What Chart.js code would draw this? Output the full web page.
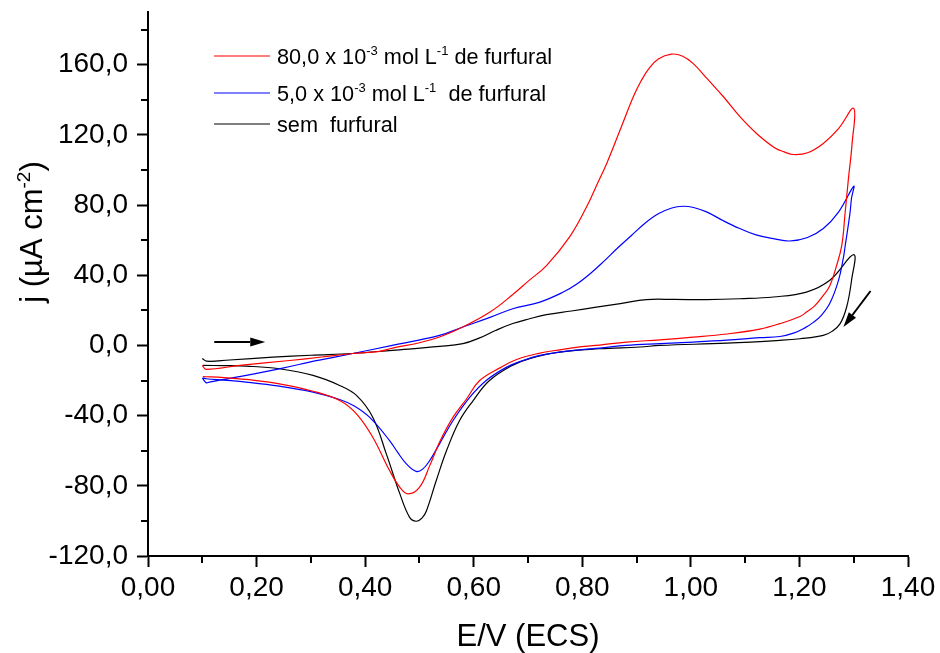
<!DOCTYPE html>
<html>
<head>
<meta charset="utf-8">
<script src="https://cdn.jsdelivr.net/npm/chart.js@4.4.1/dist/chart.umd.min.js"></script>
<style>
  html, body { margin: 0; padding: 0; background: #fff; }
  #wrap { width: 940px; height: 653px; position: relative; }
</style>
</head>
<body>
<div id="wrap"><canvas id="cv"></canvas></div>
<script>
// Cyclic voltammograms: E (V vs ECS) and j (uA cm-2), forward scan then reverse scan
const redE = [0.100, 0.107, 0.169, 0.261, 0.320, 0.377, 0.427, 0.450, 0.500, 0.537, 0.580, 0.630, 0.672, 0.700, 0.734, 0.777, 0.808, 0.829, 0.845, 0.870, 0.894, 0.908, 0.922, 0.940, 0.964, 0.985, 1.004, 1.030, 1.060, 1.090, 1.121, 1.155, 1.172, 1.189, 1.215, 1.244, 1.272, 1.300,
  1.297, 1.290, 1.284, 1.278, 1.268, 1.256, 1.244, 1.228, 1.213, 1.201, 1.164, 1.127, 1.066, 1.004, 0.943, 0.881, 0.832, 0.795, 0.758, 0.720, 0.679, 0.650, 0.611, 0.587, 0.562, 0.537, 0.519, 0.500, 0.479, 0.464, 0.445, 0.414, 0.384, 0.353, 0.304, 0.242, 0.181, 0.140, 0.101];
const redJ = [-11.4, -13.6, -11.4, -8.6, -6.6, -4.6, -3.4, -1.5, 1.5, 4.8, 10.5, 19.0, 29.0, 36.5, 45.5, 62.0, 79.0, 93.0, 103.7, 123.0, 141.7, 150.5, 157.5, 163.2, 166.0, 164.8, 160.7, 152.0, 141.7, 130.5, 120.8, 112.5, 110.3, 108.8, 109.8, 115.1, 123.5, 135.1,
  115.0, 94.2, 75.0, 57.0, 45.0, 34.0, 28.5, 22.5, 19.0, 16.5, 12.4, 9.3, 6.5, 4.7, 3.2, 1.9, 0.2, -0.8, -2.5, -4.5, -8.0, -12.5, -20.0, -30.4, -40.9, -55.2, -68.5, -80.9, -84.6, -80.9, -71.3, -52.3, -39.0, -31.4, -26.1, -21.9, -19.4, -18.3, -17.7];

const blueE = [0.100, 0.107, 0.113, 0.181, 0.248, 0.310, 0.377, 0.450, 0.537, 0.580, 0.630, 0.672, 0.722, 0.765, 0.790, 0.815, 0.840, 0.865, 0.890, 0.915, 0.940, 0.965, 0.985, 1.005, 1.029, 1.060, 1.090, 1.120, 1.152, 1.182, 1.215, 1.244, 1.272, 1.300,
  1.296, 1.293, 1.284, 1.281, 1.272, 1.256, 1.240, 1.225, 1.210, 1.189, 1.164, 1.127, 1.066, 1.004, 0.943, 0.881, 0.832, 0.795, 0.758, 0.720, 0.691, 0.660, 0.623, 0.593, 0.562, 0.537, 0.519, 0.506, 0.494, 0.476, 0.460, 0.445, 0.408, 0.380, 0.353, 0.304, 0.242, 0.181, 0.140, 0.107, 0.101];
const blueJ = [-18.5, -21.2, -20.9, -17.1, -12.9, -8.7, -4.6, 0.0, 5.7, 10.5, 16.0, 20.9, 24.7, 30.4, 35.0, 41.0, 48.0, 55.5, 62.5, 69.5, 75.0, 78.3, 79.3, 78.6, 76.1, 71.0, 66.6, 63.0, 60.9, 59.5, 61.5, 66.6, 76.0, 90.7,
  84.0, 75.1, 56.1, 50.0, 37.1, 24.0, 17.0, 13.0, 10.0, 7.0, 5.1, 4.4, 3.0, 1.9, 1.0, 0.0, -1.5, -2.5, -3.8, -5.8, -8.6, -12.5, -20.0, -29.5, -42.8, -56.1, -65.6, -70.5, -71.8, -67.5, -61.0, -54.2, -40.9, -34.5, -30.8, -26.6, -23.2, -20.9, -19.8, -19.0, -18.4];

const blackE = [0.100, 0.108, 0.150, 0.230, 0.300, 0.377, 0.450, 0.537, 0.580, 0.611, 0.640, 0.672, 0.703, 0.734, 0.780, 0.826, 0.870, 0.918, 0.970, 1.029, 1.090, 1.152, 1.213, 1.256, 1.300,
  1.296, 1.287, 1.275, 1.260, 1.244, 1.201, 1.164, 1.066, 0.943, 0.906, 0.832, 0.758, 0.703, 0.670, 0.629, 0.599, 0.574, 0.550, 0.531, 0.513, 0.505, 0.494, 0.482, 0.464, 0.439, 0.414, 0.384, 0.353, 0.304, 0.242, 0.181, 0.140, 0.101];
const blackJ = [-7.4, -9.0, -8.3, -6.7, -5.6, -4.6, -2.8, -0.6, 1.0, 4.3, 8.5, 12.5, 15.2, 17.5, 19.6, 21.8, 23.8, 26.1, 26.2, 26.1, 26.6, 27.6, 30.4, 37.1, 51.7,
  37.1, 21.9, 12.4, 8.0, 5.7, 3.8, 2.9, 1.3, 0.0, -0.9, -1.9, -3.8, -7.5, -11.5, -20.0, -31.4, -42.8, -59.9, -77.0, -94.2, -98.3, -100.2, -98.0, -84.6, -61.8, -40.9, -28.5, -22.8, -17.1, -13.3, -11.8, -11.5, -11.4];

// axis ticks
const xTicks = [0, 0.2, 0.4, 0.6, 0.8, 1.0, 1.2, 1.4];
const xTickLabels = ["0,00", "0,20", "0,40", "0,60", "0,80", "1,00", "1,20", "1,40"];
const xMinor = [0.1, 0.3, 0.5, 0.7, 0.9, 1.1, 1.3];
const yTicks = [-120, -80, -40, 0, 40, 80, 120, 160];
const yTickLabels = ["-120,0", "-80,0", "-40,0", "0,0", "40,0", "80,0", "120,0", "160,0"];
const yMinor = [-100, -60, -20, 20, 60, 100, 140, 180];

// legend texts, [text, superscript?]
const legendRed = [["80,0 x 10", false], ["-3", true], [" mol L", false], ["-1", true], [" de furfural", false]];
const legendBlue = [["5,0 x 10", false], ["-3", true], [" mol L", false], ["-1", true], ["  de furfural", false]];
const legendBlack = [["sem  furfural", false]];

// scan direction arrows, in data units [E, j]
const arrowRight = [[0.122, 2.0], [0.216, 2.0]];
const arrowDown = [[1.331, 31.0], [1.281, 10.5]];

const FONT = "'Liberation Sans', Arial, sans-serif";

function toPoints(xs, ys) {
  return xs.map((x, i) => ({ x: x, y: ys[i] }));
}

// draws text with superscripts, returns width
function drawRich(ctx, parts, x, y, size, measureOnly) {
  let cx = x;
  parts.forEach(([t, sup]) => {
    const fs = sup ? Math.round(size * 0.62) : size;
    ctx.font = fs + "px " + FONT;
    if (!measureOnly) ctx.fillText(t, cx, sup ? y - size * 0.4 : y);
    cx += ctx.measureText(t).width;
  });
  return cx - x;
}

function drawArrow(ctx, x1, y1, x2, y2) {
  const ang = Math.atan2(y2 - y1, x2 - x1);
  const hl = 15, hw = 4.5;
  const bx = x2 - hl * Math.cos(ang), by = y2 - hl * Math.sin(ang);
  ctx.beginPath();
  ctx.moveTo(x1, y1);
  ctx.lineTo(bx, by);
  ctx.stroke();
  ctx.beginPath();
  ctx.moveTo(x2, y2);
  ctx.lineTo(bx + hw * Math.sin(ang), by - hw * Math.cos(ang));
  ctx.lineTo(bx - hw * Math.sin(ang), by + hw * Math.cos(ang));
  ctx.closePath();
  ctx.fill();
}

const decorPlugin = {
  id: "decor",
  afterDraw(chart) {
    const ctx = chart.ctx;
    const xs = chart.scales.x, ys = chart.scales.y;
    const area = chart.chartArea;
    ctx.save();
    ctx.strokeStyle = "#000";
    ctx.fillStyle = "#000";
    ctx.lineWidth = 2;

    // minor ticks
    xMinor.forEach((v) => {
      const px = Math.round(xs.getPixelForValue(v));
      ctx.beginPath();
      ctx.moveTo(px, area.bottom);
      ctx.lineTo(px, area.bottom + 7);
      ctx.stroke();
    });
    yMinor.forEach((v) => {
      const py = Math.round(ys.getPixelForValue(v));
      ctx.beginPath();
      ctx.moveTo(area.left, py);
      ctx.lineTo(area.left - 7, py);
      ctx.stroke();
    });

    // axis titles
    ctx.textBaseline = "alphabetic";
    ctx.textAlign = "left";
    const xt = [["E/V (ECS)", false]];
    const wx = drawRich(ctx, xt, 0, 0, 31, true);
    drawRich(ctx, xt, (area.left + area.right) / 2 - wx / 2, 646, 31);

    const yt = [["j (\u00b5A cm", false], ["-2", true], [")", false]];
    ctx.save();
    ctx.translate(42, 232);
    ctx.rotate(-Math.PI / 2);
    const wy = drawRich(ctx, yt, 0, 0, 31, true);
    drawRich(ctx, yt, -wy / 2, 0, 31);
    ctx.restore();

    // legend
    const rows = [
      [legendRed, "#ff0000", 56],
      [legendBlue, "#0000ff", 93],
      [legendBlack, "#000000", 124],
    ];
    rows.forEach(([parts, color, y]) => {
      ctx.strokeStyle = color;
      ctx.lineWidth = 1.2;
      ctx.beginPath();
      ctx.moveTo(214, y);
      ctx.lineTo(270, y);
      ctx.stroke();
      ctx.fillStyle = "#000";
      drawRich(ctx, parts, 277, y + 7.5, 21.7);
    });

    // arrows
    ctx.strokeStyle = "#000";
    ctx.fillStyle = "#000";
    ctx.lineWidth = 2;
    [arrowRight, arrowDown].forEach(([a, b]) => {
      drawArrow(ctx,
        xs.getPixelForValue(a[0]), ys.getPixelForValue(a[1]),
        xs.getPixelForValue(b[0]), ys.getPixelForValue(b[1]));
    });
    ctx.restore();
  },
};

const lineSet = (label, xs, ys, color) => ({
  label: label,
  data: toPoints(xs, ys),
  showLine: true,
  borderColor: color,
  backgroundColor: color,
  borderWidth: 1.2,
  pointRadius: 0,
  tension: 0.4,
});

const axisGrid = {
  display: true,
  drawOnChartArea: false,
  drawTicks: true,
  tickLength: 11,
  tickWidth: 2,
  tickColor: "#000",
};

new Chart(document.getElementById("cv").getContext("2d"), {
  type: "scatter",
  data: {
    datasets: [
      lineSet("80,0 x 10\u207b\u00b3 mol L\u207b\u00b9 de furfural", redE, redJ, "#ff0000"),
      lineSet("5,0 x 10\u207b\u00b3 mol L\u207b\u00b9 de furfural", blueE, blueJ, "#0000ff"),
      lineSet("sem furfural", blackE, blackJ, "#000000"),
    ],
  },
  options: {
    responsive: true,
    maintainAspectRatio: false,
    animation: false,
    devicePixelRatio: 1,
    layout: { padding: { top: 12, right: 32, left: 0, bottom: 0 } },
    plugins: {
      legend: { display: false },
      tooltip: { enabled: false },
    },
    scales: {
      x: {
        type: "linear",
        min: 0,
        max: 1.4,
        afterBuildTicks: (s) => { s.ticks = xTicks.map((v) => ({ value: v })); },
        afterFit: (s) => { s.height = 97; s.paddingLeft = 0; s.paddingRight = 0; },
        ticks: {
          color: "#000",
          font: { family: FONT, size: 28 },
          padding: 4,
          maxRotation: 0,
          autoSkip: false,
          callback: (v, i) => xTickLabels[i],
        },
        grid: axisGrid,
        border: { display: true, color: "#000", width: 2 },
      },
      y: {
        type: "linear",
        min: -120,
        max: 190,
        afterBuildTicks: (s) => { s.ticks = yTicks.map((v) => ({ value: v })); },
        afterFit: (s) => { s.width = 148; s.paddingTop = 0; s.paddingBottom = 0; },
        ticks: {
          color: "#000",
          font: { family: FONT, size: 28 },
          padding: 9,
          autoSkip: false,
          callback: (v, i) => yTickLabels[i],
        },
        grid: axisGrid,
        border: { display: true, color: "#000", width: 2 },
      },
    },
  },
  plugins: [decorPlugin],
});
</script>
</body>
</html>
